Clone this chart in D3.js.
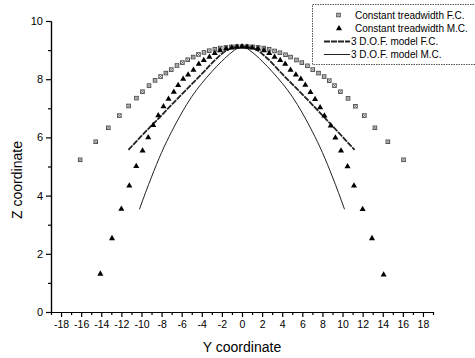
<!DOCTYPE html>
<html>
<head>
<meta charset="utf-8">
<script src="https://cdn.jsdelivr.net/npm/d3@7"></script>
<style>
body{margin:0;background:#fff;}
text{font-family:"Liberation Sans",Arial,sans-serif;fill:#000;}
</style>
</head>
<body>
<svg id="ChartSvg" width="475" height="358"></svg>
<script>
// Constant treadwidth F.C. (squares)
var SquareY = [-16.1,-14.55,-13.3,-12.2,-11.28,-10.5,-9.9,-9.25,-8.65,-8.1,-7.57,-7.04,-6.47,-5.93,-5.4,-4.86,-4.33,-3.78,-3.26,-2.7,-2.17,-1.6,-1.05,-0.52,0,
	0.52,1.05,1.6,2.17,2.7,3.24,3.77,4.33,4.83,5.42,5.95,6.51,7.04,7.61,8.17,8.68,9.2,9.79,10.55,11.28,12.17,13.22,14.51,16.07];
var SquareZ = [5.23,5.85,6.33,6.75,7.08,7.35,7.57,7.78,7.96,8.09,8.21,8.33,8.47,8.57,8.67,8.76,8.85,8.92,8.98,9.03,9.07,9.09,9.11,9.12,9.12,
	9.12,9.11,9.09,9.07,9.03,8.97,8.91,8.84,8.76,8.66,8.57,8.46,8.33,8.21,8.09,7.95,7.78,7.57,7.34,7.07,6.75,6.33,5.85,5.23];

// Constant treadwidth M.C. (triangles)
var TriangleY = [-14.09,-12.93,-12.0,-11.21,-10.52,-9.89,-9.33,-8.83,-8.33,-7.81,-7.31,-6.78,-6.35,-5.85,-5.36,-4.83,-4.3,-3.8,-3.24,-2.71,-2.18,-1.59,-1.02,-0.5,0,
	0.5,1.02,1.59,2.18,2.71,3.24,3.8,4.3,4.83,5.36,5.85,6.3,6.81,7.27,7.77,8.2,8.83,9.29,9.85,10.5,11.14,12.0,12.93,14.09];
var TriangleZ = [1.31,2.53,3.54,4.34,5.01,5.54,6.0,6.42,6.75,7.06,7.32,7.56,7.79,8.01,8.15,8.32,8.52,8.65,8.76,8.89,8.99,9.05,9.08,9.11,9.12,
	9.11,9.08,9.05,8.99,8.89,8.76,8.65,8.52,8.32,8.15,8.01,7.8,7.55,7.31,7.03,6.74,6.4,5.99,5.54,5.0,4.34,3.53,2.53,1.28];

// 3 D.O.F. model F.C.
var ModelFCY = [-11.3,-10,-8,-6,-4,-2.5,-1.5,-0.75,0,0.75,1.5,2.5,4,6,8,10,11.2];
var ModelFCZ = [5.57,6.05,6.76,7.48,8.18,8.72,9.0,9.1,9.13,9.1,9.0,8.72,8.18,7.48,6.76,6.02,5.57];

// 3 D.O.F. model M.C.
var ModelMCY = [-10.2,-9.6,-9.0,-8.0,-7.0,-6.0,-5.0,-4.0,-3.0,-2.0,-1.0,0,1.0,2.0,3.0,4.0,5.0,6.0,7.0,8.0,9.0,9.6,10.2];
var ModelMCZ = [3.53,4.1,4.64,5.48,6.2,6.84,7.4,7.86,8.26,8.62,8.93,9.12,8.93,8.62,8.26,7.86,7.4,6.84,6.2,5.48,4.64,4.1,3.53];

var XTicks = [-18,-16,-14,-12,-10,-8,-6,-4,-2,0,2,4,6,8,10,12,14,16,18];
var XMinorTicks = [-19,-17,-15,-13,-11,-9,-7,-5,-3,-1,1,3,5,7,9,11,13,15,17,19];
var ZTicks = [0,2,4,6,8,10];
var ZMinorTicks = [1,3,5,7,9];
var LegendNames = ["Constant treadwidth F.C.","Constant treadwidth M.C.","3 D.O.F. model F.C.","3 D.O.F. model M.C."];

var Svg = d3.select("#ChartSvg");
var X = d3.scaleLinear().domain([-19,19]).range([51,433]);
var Z = d3.scaleLinear().domain([0,10]).range([312,21]);

function Pairs(A,B)
{
	return A.map(function(d,i){ return [d,B[i]]; });
}

function PlainNumber(d)
{
	return String(d);
}

function DrawAxes()
{
	Svg.append('g').attr('transform','translate(0,312)')
		.call(d3.axisBottom(X).tickValues(XMinorTicks).tickSize(3).tickSizeOuter(0).tickFormat(''));
	var XMajor = Svg.append('g').attr('transform','translate(0,312)')
		.call(d3.axisBottom(X).tickValues(XTicks).tickSize(5).tickSizeOuter(0).tickPadding(4).tickFormat(PlainNumber));
	XMajor.selectAll('text').style('font-size','10.5px');

	Svg.append('g').attr('transform','translate(51,0)')
		.call(d3.axisLeft(Z).tickValues(ZMinorTicks).tickSize(3).tickSizeOuter(0).tickFormat(''));
	var ZMajor = Svg.append('g').attr('transform','translate(51,0)')
		.call(d3.axisLeft(Z).tickValues(ZTicks).tickSize(5).tickSizeOuter(0).tickPadding(3).tickFormat(PlainNumber));
	ZMajor.selectAll('text').style('font-size','11px');

	Svg.selectAll('.domain, .tick line').attr('stroke','#000').attr('stroke-width',1.2);

	Svg.append('text')
		.attr('x',242).attr('y',352)
		.attr('text-anchor','middle')
		.style('font-size','14px')
		.text('Y coordinate');
	Svg.append('text')
		.attr('transform','translate(22,180) rotate(-90)')
		.attr('text-anchor','middle')
		.style('font-size','14px')
		.text('Z coordinate');
}

function DrawSquare(G,Cx,Cy)
{
	G.append('rect').attr('x',Cx-1.8).attr('y',Cy-1.8).attr('width',3.6).attr('height',3.6)
		.attr('fill','#fff').attr('stroke','#444').attr('stroke-width',0.9);
	G.append('path').attr('d','M'+(Cx-1.8)+','+(Cy-1.8)+'L'+(Cx+1.8)+','+(Cy+1.8)+'M'+(Cx+1.8)+','+(Cy-1.8)+'L'+(Cx-1.8)+','+(Cy+1.8))
		.attr('stroke','#555').attr('stroke-width',0.7);
}

function DrawData()
{
	var Line = d3.line()
		.x(function(d){ return X(d[0]); })
		.y(function(d){ return Z(d[1]); })
		.curve(d3.curveMonotoneX);

	Svg.append('path')
		.datum(Pairs(ModelMCY,ModelMCZ))
		.attr('d',Line)
		.attr('fill','none').attr('stroke','#222').attr('stroke-width',1);

	Svg.append('path')
		.datum(Pairs(ModelFCY,ModelFCZ))
		.attr('d',Line)
		.attr('fill','none').attr('stroke','#222').attr('stroke-width',1.8)
		.attr('stroke-dasharray','6,1');

	var SquareG = Svg.append('g');
	Pairs(SquareY,SquareZ).forEach(function(d)
	{
		DrawSquare(SquareG,X(d[0]),Z(d[1]));
	});

	Svg.append('g')
		.selectAll('path')
		.data(Pairs(TriangleY,TriangleZ))
		.enter()
		.append('path')
		.attr('d',d3.symbol().type(d3.symbolTriangle).size(16))
		.attr('transform',function(d)
		{
			return 'translate(' + X(d[0]) + ',' + Z(d[1]) + ')';
		})
		.attr('fill','#000');
}

function DrawLegend()
{
	var Lg = Svg.append('g');
	Lg.append('rect')
		.attr('x',312.5).attr('y',4.5).attr('width',170).attr('height',60)
		.attr('fill','#fff').attr('stroke','#555').attr('stroke-width',1)
		.attr('stroke-dasharray','1.5,1');

	var RowY = [15,28.5,41.5,54.5];
	DrawSquare(Lg,338.5,RowY[0]);
	Lg.append('path')
		.attr('d',d3.symbol().type(d3.symbolTriangle).size(16))
		.attr('transform','translate(339,' + RowY[1] + ')')
		.attr('fill','#000');
	Lg.append('line').attr('x1',324).attr('x2',350).attr('y1',RowY[2]).attr('y2',RowY[2])
		.attr('stroke','#222').attr('stroke-width',1.8).attr('stroke-dasharray','6,1');
	Lg.append('line').attr('x1',324).attr('x2',350).attr('y1',RowY[3]).attr('y2',RowY[3])
		.attr('stroke','#222').attr('stroke-width',1);

	Lg.selectAll('text.lg')
		.data(LegendNames)
		.enter()
		.append('text')
		.attr('class','lg')
		.attr('x',function(d,i){ return i < 2 ? 355 : 351; })
		.attr('y',function(d,i){ return RowY[i] + 3.5; })
		.style('font-size','10px')
		.text(function(d){ return d; });
}

DrawAxes();
DrawData();
DrawLegend();
</script>
</body>
</html>
